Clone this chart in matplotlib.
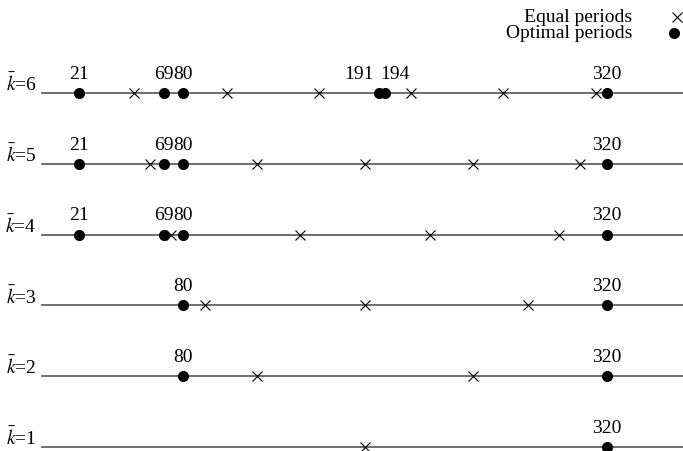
import matplotlib
matplotlib.use('Agg')
import matplotlib.pyplot as plt

plt.rcParams['font.family'] = ['Liberation Serif', 'DejaVu Serif']
plt.rcParams['mathtext.fontset'] = 'stix'

# number of breakpoints k, one line each
ks = [1, 2, 3, 4, 5, 6]

# optimal period boundaries (black dots) for each k
optimal_periods = [
    [320],
    [80, 320],
    [80, 320],
    [21, 69, 80, 320],
    [21, 69, 80, 320],
    [21, 69, 80, 191, 194, 320],
]

# equal period boundaries (crosses) for each k
equal_periods = [
    [183],
    [122, 244],
    [92, 183, 275],
    [73, 146, 220, 293],
    [61, 122, 183, 244, 305],
    [52, 105, 157, 209, 261, 314],
]

day_range = [0, 366]

# labels that sit too close together get pushed apart
label_style = {191: ('right', -4), 194: ('left', -3)}

fs = 14

fig = plt.figure(figsize=(6.83, 4.52), dpi=100)
ax = fig.add_axes([0, 0, 1, 1])
ax.axis('off')
ax.set_xlim(-23.9, 363.1)
ax.set_ylim(0.9435, 7.328)

for k, opt, eq in zip(ks, optimal_periods, equal_periods):
    ax.plot(day_range, [k, k], color='#555555', lw=1.2, zorder=1, clip_on=False)
    ax.plot(eq, [k] * len(eq), 'x', color='black', ms=6.5, mew=0.8, zorder=2)
    ax.plot(opt, [k] * len(opt), 'o', color='black', ms=7, zorder=3)
    for v in opt:
        ha, dx = label_style.get(v, ('center', 0))
        ax.annotate(str(v), xy=(v, k), xytext=(dx, 11), textcoords='offset points',
                    ha=ha, va='baseline', fontsize=fs)
    ax.annotate(r'$\bar{k}$=' + str(k), xy=(0, k), xytext=(-4, 2),
                textcoords='offset points', ha='right', va='baseline', fontsize=fs)

# legend, text first then marker
ax.text(632 / 683, 1 - 17 / 452, 'Equal periods', transform=ax.transAxes,
        ha='right', va='center', fontsize=fs)
ax.text(632 / 683, 1 - 34 / 452, 'Optimal periods', transform=ax.transAxes,
        ha='right', va='center', fontsize=fs)
ax.plot([677 / 683], [1 - 18 / 452], 'x', color='black', ms=6.5, mew=0.8,
        transform=ax.transAxes, clip_on=False)
ax.plot([674 / 683], [1 - 33.5 / 452], 'o', color='black', ms=7,
        transform=ax.transAxes, clip_on=False)

plt.savefig('out.png', dpi=100)
